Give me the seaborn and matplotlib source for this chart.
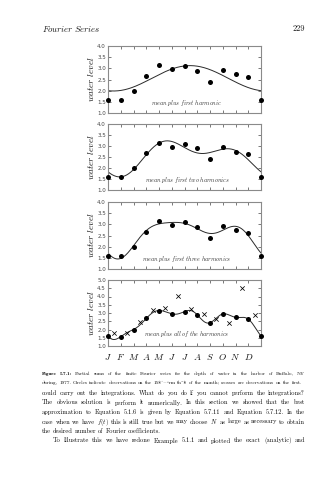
import numpy as np
import pandas as pd
import matplotlib
matplotlib.use("Agg")
import matplotlib.pyplot as plt
import seaborn as sns

# Buffalo harbor water level, 1977
months = ["J", "F", "M", "A", "M", "J", "J", "A", "S", "O", "N", "D"]
level_15th = [1.60, 1.57, 2.00, 2.67, 3.15, 2.95, 3.09, 2.89, 2.41, 2.94, 2.74, 2.63]
level_1st = [1.76, 1.79, 2.47, 3.21, 3.31, 4.02, 3.27, 2.91, 2.66, 2.42, 4.53, 2.86]

panel_notes = ["mean plus first harmonic",
               "mean plus first two harmonics",
               "mean plus first three harmonics",
               "mean plus all of the harmonics"]
panel_harmonics = [1, 2, 3, 6]
panel_ymax = [4.0, 4.0, 4.0, 5.0]

caption_lines = [
    "Partial sums of the finite Fourier series for the depth of water in the harbor of Buffalo, NY",
    "during, 1977.  Circles indicate observations on the 15$^{\\rm th}$ of the month; crosses are observations on the first.",
]
body_lines = [
    "could carry out the integrations.  What do you do if you cannot perform the integrations?",
    "The obvious solution is perform it numerically.  In this section we showed that the best",
    "approximation to Equation 5.1.6 is given by Equation 5.7.11 and Equation 5.7.12.  In the",
    "case when we have $f(t)$ this is still true but we may choose $N$ as large as necessary to obtain",
    "the desired number of Fourier coefficients.",
    "To illustrate this we have redone Example 5.1.1 and plotted the exact (analytic) and",
]

sns.set_style("ticks")
plt.rcParams["mathtext.fontset"] = "cm"
plt.rcParams["font.family"] = ["DejaVu Sans"]

W, H = 335, 480
fig = plt.figure(figsize=(W / 100, H / 100), dpi=100)
fig.patch.set_facecolor("white")
ink = "#111111"


def partial_sum(y, n_harm, t):
    """Mean plus the first n_harm harmonics of the finite Fourier series of y."""
    y = np.asarray(y, dtype=float)
    n = len(y)
    k = np.arange(n)
    out = np.full_like(t, y.mean(), dtype=float)
    for m in range(1, n_harm + 1):
        a = 2.0 / n * np.sum(y * np.cos(2 * np.pi * m * k / n))
        b = 2.0 / n * np.sum(y * np.sin(2 * np.pi * m * k / n))
        if 2 * m == n:
            a /= 2.0
            b = 0.0
        out += a * np.cos(2 * np.pi * m * t / n) + b * np.sin(2 * np.pi * m * t / n)
    return out


obs = pd.DataFrame({"t": np.arange(13), "level": level_15th + level_15th[:1]})
first = pd.DataFrame({"t": np.arange(12) + 0.5, "level": level_1st})
tt = np.linspace(0, 12, 600)

left, width = 108, 153
tops = [46, 124, 202, 280]
heights = [67, 66, 67, 66]
frame_col = "#8a8a8a"

for i in range(4):
    top, h = tops[i], heights[i]
    ax = fig.add_axes([left / W, 1 - (top + h) / H, width / W, h / H])
    curve = partial_sum(level_15th, panel_harmonics[i], tt)
    sns.lineplot(x=tt, y=curve, ax=ax, color="#2a2a2a", linewidth=0.7)
    sns.scatterplot(data=obs, x="t", y="level", ax=ax, color="black", s=13,
                    linewidth=0, zorder=3, clip_on=False)
    if i == 3:
        sns.scatterplot(data=first, x="t", y="level", ax=ax, color="black",
                        marker="x", s=10, linewidth=0.55, zorder=3)
    ax.set_xlim(0, 12)
    ax.set_ylim(1.0, panel_ymax[i])
    ax.set_xticks(range(13))
    yt = np.arange(1.0, panel_ymax[i] + 0.01, 0.5)
    ax.set_yticks(yt)
    ax.set_yticklabels([f"{v:.1f}" for v in yt])
    ax.tick_params(direction="in", length=2, width=0.5, top=True, right=True,
                   labelsize=4, pad=1.5, colors="#444444")
    if i == 3:
        ax.set_xticklabels([f"$\\mathit{{{m}}}$" for m in months] + [""],
                           fontsize=6.6, color=ink)
        ax.tick_params(axis="x", pad=4)
    else:
        ax.set_xticklabels([])
    ax.set_xlabel("")
    ax.set_ylabel("$\\mathit{water\\ level}$", fontsize=6.6, labelpad=1, color=ink)
    ax.text(6.2, 1.45 if i < 3 else 1.72, "$\\mathit{" + panel_notes[i].replace(" ", "\\ ") + "}$",
            ha="center", va="center", fontsize=4.3, color="#333333")
    for sp in ax.spines.values():
        sp.set_color(frame_col)
        sp.set_linewidth(0.8)

# running head
fig.text(42 / W, 1 - 29 / H, "$\\mathit{Fourier\\ Series}$", fontsize=6.3,
         ha="left", va="center", color=ink)
fig.text(305 / W, 1 - 29 / H, "229", fontsize=6.0, family="cmr10",
         ha="right", va="center", color=ink)

renderer = fig.canvas.get_renderer()
SPACE = 0.30  # normal word space, in em


def natural_width(words_spec, size):
    """Width in pixels of a line set at the given size with normal word spaces."""
    total = 0.0
    for word, kw in words_spec:
        t = fig.text(0, 0, word, fontsize=size, **kw)
        total += t.get_window_extent(renderer).width
        t.remove()
    return total + SPACE * size * 100 / 72 * (len(words_spec) - 1)


def fit_size(words_spec, avail, size=5.0):
    """Font size at which the line fills the available width with normal spaces."""
    for _ in range(5):
        size *= avail / natural_width(words_spec, size)
    return size


def set_line(words_spec, x0, x1, y, size, justify=True):
    """Place a line of words between x0 and x1 (pixels), spreading the gaps."""
    texts = []
    for word, kw in words_spec:
        texts.append(fig.text(0, 1 - y / H, word, ha="left", va="baseline",
                              color=ink, fontsize=size, **kw))
    widths = [t.get_window_extent(renderer).width for t in texts]
    if justify and len(texts) > 1:
        gap = (x1 - x0 - sum(widths)) / (len(texts) - 1)
    else:
        gap = SPACE * size * 100 / 72
    x = x0
    for t, w in zip(texts, widths):
        t.set_x(x / W)
        x += w + gap


cap_kw = dict(family="cmr10")
cap_bold = dict(family="cmb10")
cap_specs = [
    [("Figure", cap_bold), ("5.7.1:", cap_bold)] + [(w, cap_kw) for w in caption_lines[0].split()],
    [(w, cap_kw) for w in caption_lines[1].split()],
]
cap_size = min(fit_size(cap_specs[0], 263), fit_size(cap_specs[1], 259))
set_line(cap_specs[0], 42, 305, 375, cap_size)
set_line(cap_specs[1], 42, 301, 384, cap_size, justify=False)

body_kw = dict(family="cmr10")
body_specs = [[(w, body_kw) for w in line.split()] for line in body_lines]
avail = [263, 263, 263, 263, 263, 252]
body_size = min(fit_size(body_specs[j], avail[j]) for j in (0, 1, 2, 3, 5))
body_y = [395, 404.5, 414, 423.5, 433, 442.5]
for j, spec in enumerate(body_specs):
    x0 = 53 if j == 5 else 42
    set_line(spec, x0, 305, body_y[j], body_size, justify=(j != 4))

fig.savefig("out.png", dpi=100, facecolor="white")
